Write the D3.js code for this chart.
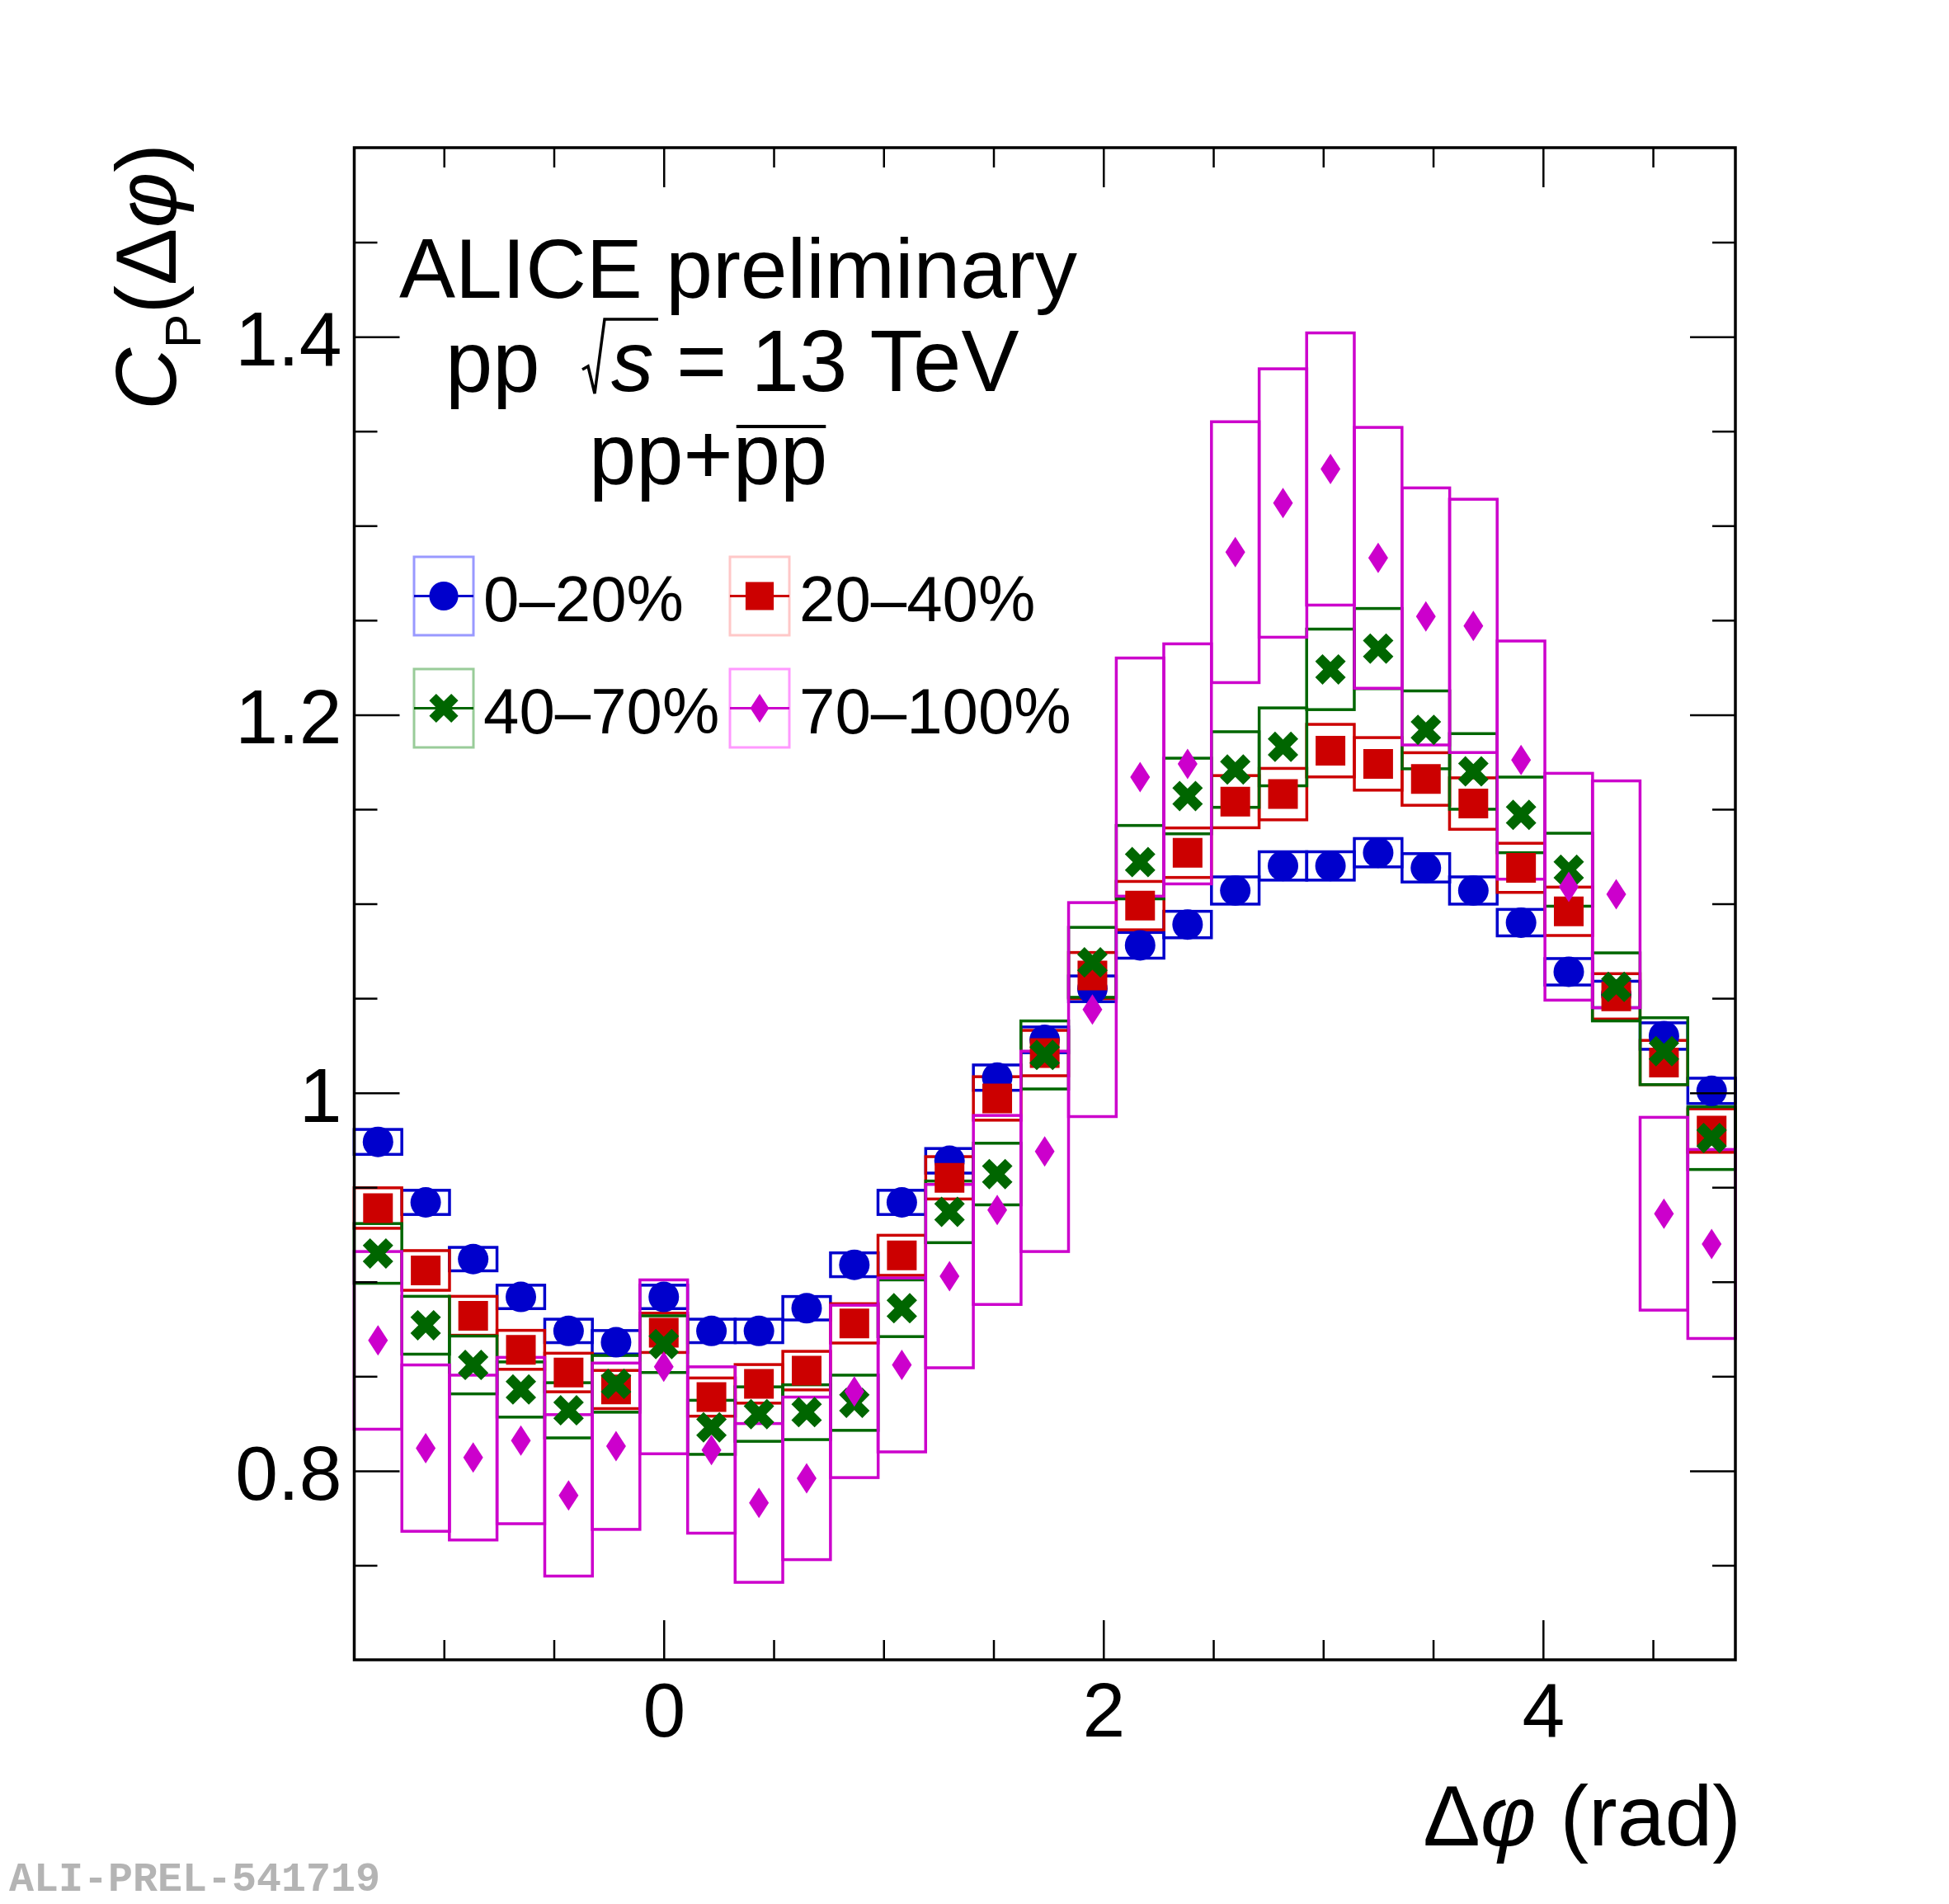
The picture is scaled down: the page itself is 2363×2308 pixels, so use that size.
<!DOCTYPE html>
<html>
<head>
<meta charset="utf-8">
<script src="https://cdn.jsdelivr.net/npm/d3@7"></script>
<style>
  body { margin: 0; background: #fff; }
  text { font-family: "Liberation Sans", Arial, Helvetica, sans-serif; }
</style>
</head>
<body>
<div id="chart"></div>
<script>
// delta phi bin centres (rad), 29 bins over 2pi
let dphi = [-1.300, -1.083, -0.867, -0.650, -0.433, -0.217, 0.000, 0.217, 0.433, 0.650,
            0.867, 1.083, 1.300, 1.517, 1.733, 1.950, 2.167, 2.383, 2.600, 2.817,
            3.033, 3.250, 3.467, 3.683, 3.900, 4.117, 4.333, 4.550, 4.767];
let binWidth = 0.2167;

// C_P values and systematic uncertainties per multiplicity class
let cent0020 = [0.974, 0.942, 0.912, 0.892, 0.874, 0.868, 0.892, 0.874, 0.874, 0.886,
                0.909, 0.942, 0.964, 1.008, 1.028, 1.055, 1.078, 1.089, 1.107, 1.120,
                1.120, 1.127, 1.119, 1.107, 1.090, 1.064, 1.052, 1.030, 1.001];
let syst0020 = [0.0066, 0.0064, 0.0062, 0.0062, 0.0062, 0.0062, 0.0062, 0.0062, 0.0062, 0.0062,
                0.0063, 0.0064, 0.0065, 0.0067, 0.0068, 0.0068, 0.0068, 0.0070, 0.0072, 0.0075,
                0.0075, 0.0075, 0.0075, 0.0072, 0.0070, 0.0070, 0.0070, 0.0070, 0.0067];

let cent2040 = [0.939, 0.906, 0.882, 0.864, 0.852, 0.843, 0.873, 0.839, 0.846, 0.853,
                0.878, 0.914, 0.955, 0.997, 1.021, 1.062, 1.099, 1.127, 1.154, 1.158,
                1.181, 1.174, 1.166, 1.153, 1.119, 1.096, 1.051, 1.016, 0.980];
let syst2040 = [0.0107, 0.0105, 0.0103, 0.0103, 0.0102, 0.0101, 0.0104, 0.0101, 0.0102, 0.0102,
                0.0104, 0.0106, 0.0112, 0.0115, 0.0120, 0.0122, 0.0128, 0.0131, 0.0138, 0.0136,
                0.0139, 0.0139, 0.0139, 0.0136, 0.0130, 0.0128, 0.0120, 0.0117, 0.0115];

let cent4070 = [0.915, 0.877, 0.856, 0.843, 0.832, 0.846, 0.867, 0.823, 0.830, 0.831,
                0.836, 0.886, 0.937, 0.957, 1.020, 1.069, 1.122, 1.157, 1.171, 1.183,
                1.224, 1.235, 1.192, 1.170, 1.147, 1.118, 1.056, 1.022, 0.976];
let syst4070 = [0.0158, 0.0153, 0.0153, 0.0146, 0.0146, 0.0150, 0.0150, 0.0143, 0.0144, 0.0145,
                0.0146, 0.0150, 0.0163, 0.0163, 0.0180, 0.0185, 0.0194, 0.0200, 0.0200, 0.0206,
                0.0213, 0.0212, 0.0206, 0.0200, 0.0200, 0.0193, 0.0180, 0.0177, 0.0166];

let cent70100 = [0.869, 0.812, 0.807, 0.816, 0.787, 0.813, 0.855, 0.811, 0.783, 0.796,
                 0.842, 0.856, 0.903, 0.938, 0.969, 1.044, 1.167, 1.174, 1.286, 1.312,
                 1.330, 1.283, 1.252, 1.247, 1.176, 1.109, 1.105, 0.936, 0.920];
let syst70100 = [0.047, 0.044, 0.0436, 0.044, 0.0427, 0.044, 0.046, 0.044, 0.042, 0.043,
                 0.0456, 0.046, 0.0485, 0.050, 0.053, 0.0566, 0.063, 0.0635, 0.069, 0.071,
                 0.072, 0.069, 0.068, 0.067, 0.063, 0.060, 0.060, 0.051, 0.050];

let classLabels = ['0–20%', '20–40%', '40–70%', '70–100%'];

// axis ticks
let xMajor = [0, 2, 4];
let xMinor = [-1, -0.5, 0.5, 1, 1.5, 2.5, 3, 3.5, 4.5];
let yMajor = [0.8, 1, 1.2, 1.4];
let yMinor = [0.75, 0.85, 0.9, 0.95, 1.05, 1.1, 1.15, 1.25, 1.3, 1.35, 1.45];

// D3 margin convention
let margin = {top: 179, right: 259, bottom: 296, left: 429.5};
let width = 2363 - margin.left - margin.right;
let height = 2308 - margin.top - margin.bottom;

let root = d3.select("#chart")
            .append("svg")
            .attr("width", 2363)
            .attr("height", 2308)
            .style("background", "#fff");

let svg = root.append("g")
            .attr("transform", "translate(" + margin.left + "," + margin.top + ")");

let x = d3.scaleLinear().domain([-1.408, 4.875]).range([0, width]);
let y = d3.scaleLinear().domain([0.7, 1.5]).range([height, 0]);

// series table built from the arrays above
let series = [
  {values: cent0020, syst: syst0020, color: '#0000cc', light: '#9999ff', marker: 'circle'},
  {values: cent2040, syst: syst2040, color: '#cc0000', light: '#ffc8c8', marker: 'square'},
  {values: cent4070, syst: syst4070, color: '#006600', light: '#99cc99', marker: 'cross'},
  {values: cent70100, syst: syst70100, color: '#cc00cc', light: '#ff99ff', marker: 'diamond'}
];

// marker outlines, centred on 0,0
function markerPath(type) {
  if (type === 'circle') {
    return d3.symbol().type(d3.symbolCircle).size(Math.PI * 18.5 * 18.5)();
  }
  if (type === 'square') {
    return 'M-18,-18L18,-18L18,18L-18,18Z';
  }
  if (type === 'diamond') {
    return 'M0,-18.5L12,0L0,18.5L-12,0Z';
  }
  // thick X
  let s = 18.5;
  let pts = [[-1,-0.52],[-0.52,-1],[0,-0.48],[0.52,-1],[1,-0.52],[0.48,0],
             [1,0.52],[0.52,1],[0,0.48],[-0.52,1],[-1,0.52],[-0.48,0]];
  return 'M' + pts.map(p => (p[0]*s) + ',' + (p[1]*s)).join('L') + 'Z';
}

// systematic boxes first
series.forEach(s => {
  svg.append('g')
     .selectAll('rect')
     .data(s.values)
     .enter()
     .append('rect')
     .attr('x', (d, i) => x(dphi[i] - binWidth/2))
     .attr('width', (d, i) => x(dphi[i] + binWidth/2) - x(dphi[i] - binWidth/2))
     .attr('y', (d, i) => y(d + s.syst[i]))
     .attr('height', (d, i) => y(d - s.syst[i]) - y(d + s.syst[i]))
     .attr('fill', 'none')
     .attr('stroke', s.color)
     .attr('stroke-width', 3.5);
});

// then the points
series.forEach(s => {
  svg.append('g')
     .selectAll('path')
     .data(s.values)
     .enter()
     .append('path')
     .attr('d', markerPath(s.marker))
     .attr('transform', (d, i) => 'translate(' + x(dphi[i]) + ',' + y(d) + ')')
     .attr('fill', s.color);
});

// axes, ticks on all four sides pointing inwards
function styleAxis(g) {
  g.select('.domain').remove();
  g.selectAll('line').attr('stroke', '#000').attr('stroke-width', 2.5);
  g.attr('font-size', 93).attr('font-family', '"Liberation Sans", Arial, Helvetica, sans-serif');
  g.selectAll('text').attr('fill', '#000');
}

svg.append('g')
   .attr('transform', 'translate(0,' + height + ')')
   .call(d3.axisBottom(x).tickValues(xMajor).tickSize(-48).tickPadding(27).tickFormat(d3.format('d')))
   .call(styleAxis);
svg.append('g')
   .attr('transform', 'translate(0,' + height + ')')
   .call(d3.axisBottom(x).tickValues(xMinor).tickSize(-24).tickFormat(''))
   .call(styleAxis);
svg.append('g')
   .call(d3.axisTop(x).tickValues(xMajor).tickSize(-48).tickFormat(''))
   .call(styleAxis);
svg.append('g')
   .call(d3.axisTop(x).tickValues(xMinor).tickSize(-24).tickFormat(''))
   .call(styleAxis);

svg.append('g')
   .call(d3.axisLeft(y).tickValues(yMajor).tickSize(-55).tickPadding(15).tickFormat(d3.format('~g')))
   .call(styleAxis)
   .selectAll('text').attr('dy', '0.37em');
svg.append('g')
   .call(d3.axisLeft(y).tickValues(yMinor).tickSize(-28).tickFormat(''))
   .call(styleAxis);
svg.append('g')
   .attr('transform', 'translate(' + width + ',0)')
   .call(d3.axisRight(y).tickValues(yMajor).tickSize(-55).tickFormat(''))
   .call(styleAxis);
svg.append('g')
   .attr('transform', 'translate(' + width + ',0)')
   .call(d3.axisRight(y).tickValues(yMinor).tickSize(-28).tickFormat(''))
   .call(styleAxis);

// frame
svg.append('rect')
   .attr('width', width)
   .attr('height', height)
   .attr('fill', 'none')
   .attr('stroke', '#000')
   .attr('stroke-width', 3.5);

// x title
let xt = root.append('text')
   .attr('x', 2111)
   .attr('y', 2237)
   .attr('font-size', 104)
   .style('text-anchor', 'end');
xt.append('tspan').text('Δ');
xt.append('tspan').attr('font-style', 'italic').text('φ');
xt.append('tspan').text(' (rad)');

// y title
let yt = root.append('text')
   .attr('transform', 'translate(213,174) rotate(-90)')
   .attr('font-size', 104)
   .style('text-anchor', 'end');
yt.append('tspan').attr('font-style', 'italic').text('C');
yt.append('tspan').attr('font-size', 62).attr('dy', 30).text('P');
yt.append('tspan').attr('dy', -30).text('(Δ');
yt.append('tspan').attr('font-style', 'italic').text('φ');
yt.append('tspan').text(')');

// header text
root.append('text')
   .attr('x', 895)
   .attr('y', 361)
   .attr('font-size', 102)
   .style('text-anchor', 'middle')
   .text('ALICE preliminary');

root.append('text').attr('x', 540).attr('y', 474).attr('font-size', 103).text('pp');
root.append('path')
   .attr('d', 'M706,448L713,444L721,477L733,387L798,387')
   .attr('fill', 'none')
   .attr('stroke', '#000')
   .attr('stroke-width', 3.5);
root.append('text').attr('x', 741).attr('y', 474).attr('font-size', 103)
   .attr('font-style', 'italic').text('s');
root.append('text').attr('x', 820).attr('y', 474).attr('font-size', 105).text('= 13 TeV');

let ppText = root.append('text').attr('x', 714).attr('y', 586).attr('font-size', 103);
ppText.append('tspan').text('pp+');
let antiPP = ppText.append('tspan').text('pp');
let bb = antiPP.node().getBBox();
root.append('line')
   .attr('x1', bb.x + 4).attr('x2', bb.x + bb.width - 2)
   .attr('y1', 517).attr('y2', 517)
   .attr('stroke', '#000')
   .attr('stroke-width', 4);

// legend
let legendCols = [502, 885];
let legendRows = [675, 811];
let legend = root.append('g');
series.forEach((s, i) => {
  let lx = legendCols[i % 2];
  let ly = legendRows[Math.floor(i / 2)];
  let g = legend.append('g').attr('transform', 'translate(' + lx + ',' + ly + ')');
  g.append('rect')
   .attr('width', 72).attr('height', 95)
   .attr('fill', 'none')
   .attr('stroke', s.light)
   .attr('stroke-width', 3);
  g.append('line')
   .attr('x1', 0).attr('x2', 72)
   .attr('y1', 47.5).attr('y2', 47.5)
   .attr('stroke', s.color)
   .attr('stroke-width', 3);
  g.append('path')
   .attr('d', markerPath(s.marker))
   .attr('transform', 'translate(36,47.5) scale(0.95)')
   .attr('fill', s.color);
  g.append('text')
   .attr('x', 84)
   .attr('y', 78)
   .attr('font-size', 78)
   .text(classLabels[i]);
});

// preliminary figure tag
root.append('text')
   .attr('x', 11)
   .attr('y', 2292)
   .attr('font-size', 50)
   .attr('font-weight', 'bold')
   .attr('fill', '#b4b4b4')
   .style('font-family', '"Liberation Mono", "Courier New", monospace')
   .text('ALI-PREL-541719');
</script>
</body>
</html>
